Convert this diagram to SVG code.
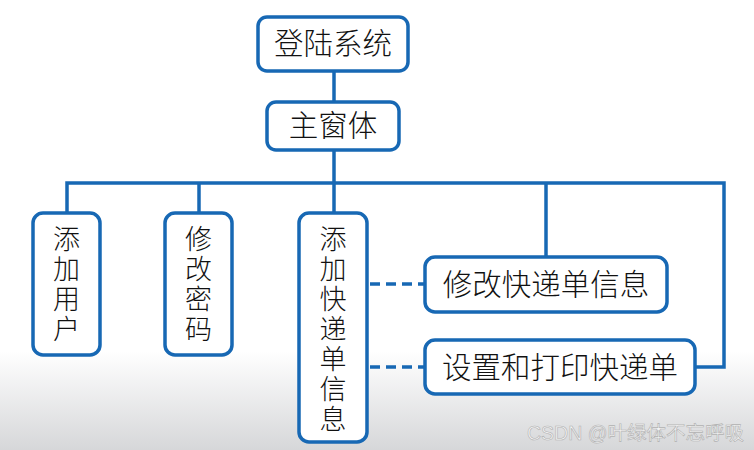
<svg xmlns="http://www.w3.org/2000/svg" width="754" height="450" viewBox="0 0 754 450">
<defs>
<linearGradient id="bg" x1="0" y1="0" x2="0" y2="1">
<stop offset="0" stop-color="#ffffff"/>
<stop offset="0.78" stop-color="#ffffff"/>
<stop offset="1" stop-color="#d6d7d9"/>
</linearGradient>
<style>
.box{fill:#ffffff;stroke:#1768b4;stroke-width:3.5}
.ln{fill:none;stroke:#1768b4;stroke-width:3.5}
.dash{fill:none;stroke:#1768b4;stroke-width:3.5;stroke-dasharray:10 6}
.t{font-family:"Noto Sans CJK SC","Noto Sans",sans-serif;font-size:29.5px;font-weight:300;fill:#111111;text-anchor:middle}
.v{font-family:"Noto Sans CJK SC","Noto Sans",sans-serif;font-size:27px;font-weight:300;fill:#111111;writing-mode:vertical-rl;text-orientation:upright;letter-spacing:3px}
.wm{font-family:"Liberation Sans","Noto Sans CJK SC",sans-serif;font-size:19.5px;fill:#f4f4f4;stroke:#b0b0b0;stroke-width:0.6}
</style>
</defs>
<rect x="0" y="0" width="754" height="450" fill="url(#bg)"/>
<g id="connectors">
<line class="ln" x1="334" y1="70" x2="334" y2="102"/>
<line class="ln" x1="334" y1="150" x2="334" y2="183"/>
<polyline class="ln" points="67,213 67,183 724,183 724,367 695,367"/>
<line class="ln" x1="199" y1="183" x2="199" y2="213"/>
<line class="ln" x1="334" y1="183" x2="334" y2="213"/>
<line class="ln" x1="546" y1="183" x2="546" y2="257"/>
<line class="dash" x1="370" y1="284" x2="425" y2="284"/>
<line class="dash" x1="370" y1="367" x2="425" y2="367"/>
</g>
<g id="login">
<rect class="box" x="258" y="17" width="150" height="54" rx="9"/>
<text class="t" x="333" y="54">登陆系统</text>
</g>
<g id="main">
<rect class="box" x="267" y="102" width="132" height="48" rx="9"/>
<text class="t" x="333" y="136">主窗体</text>
</g>
<g id="adduser">
<rect class="box" x="33" y="213" width="67" height="142" rx="10"/>
<text class="v" x="66.5" y="225">添加用户</text>
</g>
<g id="changepwd">
<rect class="box" x="165" y="213" width="67" height="142" rx="10"/>
<text class="v" x="198.5" y="225">修改密码</text>
</g>
<g id="addorder">
<rect class="box" x="299" y="213" width="68" height="229" rx="10"/>
<text class="v" x="333" y="225">添加快递单信息</text>
</g>
<g id="editorder">
<rect class="box" x="425" y="257" width="242" height="55" rx="10"/>
<text class="t" x="546" y="295">修改快递单信息</text>
</g>
<g id="printorder">
<rect class="box" x="425" y="340" width="270" height="54" rx="10"/>
<text class="t" x="560" y="378">设置和打印快递单</text>
</g>
<text class="wm" x="527" y="440">CSDN @叶绿体不忘呼吸</text>
</svg>
